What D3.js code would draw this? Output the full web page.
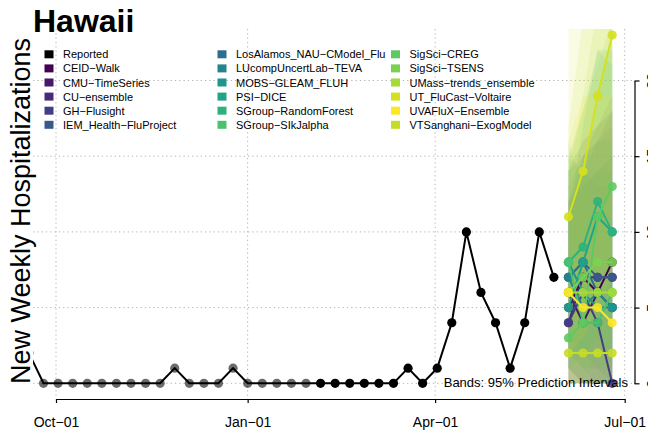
<!DOCTYPE html>
<html lang="en">
<head>
<meta charset="UTF-8">
<title>Hawaii</title>
<script src="https://d3js.org/d3.v7.min.js"></script>
<style>
    body { margin: 0; background: #fff; }
    svg { display: block; font-family: "Liberation Sans", Arial, Helvetica, sans-serif; }
</style>
</head>
<body>
<svg id="chart" width="648" height="436"></svg>
<script>
    // reported weekly counts, one per week starting at reportedStart
    const reportedStart = Date.UTC(2022, 8, 18);
    const reported = [2, 0, 0, 0, 0, 0, 0, 0, 0, 0, 1, 0, 0, 0, 1, 0, 0, 0, 0, 0, 0, 0, 0, 0, 0, 0,
        1, 0, 1, 4, 10, 6, 4, 1, 4, 10, 7];
    const recentFrom = Date.UTC(2023, 1, 1);   // older points are drawn grey

    const forecastStart = Date.UTC(2023, 5, 4);
    const models = ["CEID-Walk", "CMU-TimeSeries", "CU-ensemble", "GH-Flusight", "IEM_Health-FluProject",
        "LosAlamos_NAU-CModel_Flu", "LUcompUncertLab-TEVA", "MOBS-GLEAM_FLUH", "PSI-DICE",
        "SGroup-RandomForest", "SGroup-SIkJalpha", "SigSci-CREG", "SigSci-TSENS",
        "UMass-trends_ensemble", "UT_FluCast-Voltaire", "UVAFluX-Ensemble", "VTSanghani-ExogModel"];
    const modelColors = ["#440154", "#481769", "#472a7a", "#433d84", "#38598c", "#2d6d8e", "#25838e",
        "#1f958b", "#20a386", "#2db27d", "#4ac16d", "#5ec962", "#7ad151", "#a5db36", "#d5e01e",
        "#fde725", "#c5dd25"];
    const median = [[5, 7, 6, 8], [6, 4, 6, 5], [4, 7, 7, 7], [4, 6, 4, 0], [7, 8, 7, 7], [7, 8, 6, 5],
        [7, 5, 6, 5], [8, 6, 5, 5], [5, 8, 11, 10], [8, 9, 12, 10], [8, 4, 4, 6], [3, 4, 11, 13],
        [6, 7, 8, 8], [6, 6, 6, 6], [11, 14, 19, 23], [6, 5, 5, 4], [2, 2, 2, 2]];
    const lower = [[0, 0, 0, 0], [1, 0, 0, 0], [0, 0, 0, 0], [0, 0, 0, 0], [2, 1, 1, 0], [3, 2, 1, 1],
        [1, 0, 0, 0], [2, 1, 0, 0], [1, 2, 3, 2], [2, 2, 3, 2], [1, 0, 0, 0], [0, 0, 2, 3],
        [1, 1, 1, 1], [0, 0, 0, 0], [2, 3, 5, 7], [0, 0, 0, 0], [0, 0, 0, 0]];
    const upper = [[14, 16, 17, 18], [12, 13, 14, 15], [11, 14, 16, 18], [12, 15, 17, 19], [13, 15, 16, 17],
        [12, 14, 13, 13], [14, 15, 16, 16], [15, 14, 14, 14], [11, 17, 22, 22], [15, 18, 22, 21],
        [16, 13, 12, 15], [10, 14, 19, 23], [14, 18, 21, 24], [14, 19, 25, 30], [30, 34, 38, 42],
        [16, 19, 19, 19], [17, 24, 26, 28]];

    const xTicks = [Date.UTC(2022, 9, 1), Date.UTC(2023, 0, 1), Date.UTC(2023, 3, 1), Date.UTC(2023, 6, 1)];
    const yTicks = [0, 5, 10, 15, 20];

    const WEEK = 7 * 864e5;
    const minus = s => s.replace(/-/g, "\u2212");

    const svg = d3.select("#chart");
    const x = d3.scaleUtc().domain([new Date(xTicks[0]), new Date(xTicks[3])]).range([56, 624.7]);
    const y = d3.scaleLinear().domain([0, 20]).range([383.3, 80.5]);

    svg.append("defs").append("clipPath").attr("id", "plot")
        .append("rect").attr("x", 33).attr("y", 29).attr("width", 601.5).attr("height", 370);

    const plot = svg.append("g").attr("clip-path", "url(#plot)");

    // dotted grid
    plot.selectAll(".hg").data(yTicks).enter().append("line")
        .attr("x1", 33).attr("x2", 634.5).attr("y1", d => y(d)).attr("y2", d => y(d))
        .attr("stroke", "#b5b5b5").attr("stroke-dasharray", "1.3,3");
    plot.selectAll(".vg").data(xTicks).enter().append("line")
        .attr("x1", d => x(new Date(d))).attr("x2", d => x(new Date(d))).attr("y1", 29).attr("y2", 399)
        .attr("stroke", "#b5b5b5").attr("stroke-dasharray", "1.3,3");

    const fcDates = d3.range(4).map(h => new Date(forecastStart + h * WEEK));

    // 95% bands
    const area = d3.area()
        .x((d, i) => x(fcDates[i]))
        .y0(d => y(d[0]))
        .y1(d => y(d[1]));
    models.forEach((m, k) => {
        const pts = lower[k].map((lo, i) => [lo, upper[k][i]]);
        plot.append("path")
            .attr("d", area(pts))
            .attr("fill", modelColors[k])
            .attr("fill-opacity", 0.12);
    });

    // reported series
    const rep = reported.map((v, i) => ({ date: new Date(reportedStart + i * WEEK), v: v }));
    const line = d3.line().x(d => x(d.date)).y(d => y(d.v));
    plot.append("path").datum(rep)
        .attr("d", line).attr("fill", "none").attr("stroke", "#000").attr("stroke-width", 2);
    plot.selectAll(".rep").data(rep).enter().append("circle")
        .attr("cx", d => x(d.date)).attr("cy", d => y(d.v)).attr("r", 4.6)
        .attr("fill", d => +d.date < recentFrom ? "rgba(0,0,0,0.58)" : "#000");

    // forecasts
    models.forEach((m, k) => {
        const pts = median[k].map((v, i) => ({ date: fcDates[i], v: v }));
        plot.append("path").datum(pts)
            .attr("d", line).attr("fill", "none")
            .attr("stroke", modelColors[k]).attr("stroke-width", 2);
        plot.selectAll(null).data(pts).enter().append("circle")
            .attr("cx", d => x(d.date)).attr("cy", d => y(d.v)).attr("r", 4.6)
            .attr("fill", modelColors[k]).attr("fill-opacity", 0.9);
    });

    svg.append("text")
        .attr("x", 628).attr("y", 387).attr("text-anchor", "end")
        .attr("font-size", 13).text("Bands: 95% Prediction Intervals");

    // axes
    const xAxis = svg.append("g").attr("transform", "translate(0,399)")
        .call(d3.axisBottom(x)
            .tickValues(xTicks.map(d => new Date(d)))
            .tickFormat(d => minus(d3.utcFormat("%b-%d")(d)))
            .tickSize(4).tickSizeOuter(0).tickPadding(14));
    xAxis.selectAll("text").attr("font-size", 14).attr("fill", "#000");
    xAxis.selectAll("path, line").attr("stroke", "#000").attr("stroke-width", 1.2);
    xAxis.attr("font-family", null);

    // right axis: labels run past the page edge, as in the original
    const yAxis = svg.append("g").attr("transform", "translate(634.5,0)")
        .call(d3.axisRight(y).tickValues(yTicks).tickSize(5).tickSizeOuter(0));
    yAxis.selectAll("path, line").attr("stroke", "#000").attr("stroke-width", 1.2);
    yAxis.selectAll("text")
        .attr("x", 0).attr("dy", 0).attr("text-anchor", "middle")
        .attr("transform", "translate(22.5,0) rotate(-90)")
        .attr("font-size", 14).attr("fill", "#000");
    yAxis.attr("font-family", null);

    // legend
    const legendNames = ["Reported"].concat(models);
    const legendColors = ["#000"].concat(modelColors);
    const colX = [44.5, 217.5, 391];
    const legend = svg.append("g");
    legendNames.forEach((name, k) => {
        const cx = colX[Math.floor(k / 6)];
        const cy = 54.3 + (k % 6) * 14.1;
        legend.append("rect").attr("x", cx).attr("y", cy - 4).attr("width", 9).attr("height", 8)
            .attr("fill", legendColors[k]);
        legend.append("text").attr("x", cx + 18.5).attr("y", cy + 4)
            .attr("font-size", 11).attr("fill", "#000").text(minus(name));
    });

    // titles
    svg.append("text").attr("x", 33).attr("y", 32)
        .attr("font-size", 32).attr("font-weight", "bold").text("Hawaii");
    svg.append("text")
        .attr("transform", "translate(30,211) rotate(-90)")
        .attr("text-anchor", "middle").attr("font-size", 27)
        .text("New Weekly Hospitalizations");
</script>
</body>
</html>
